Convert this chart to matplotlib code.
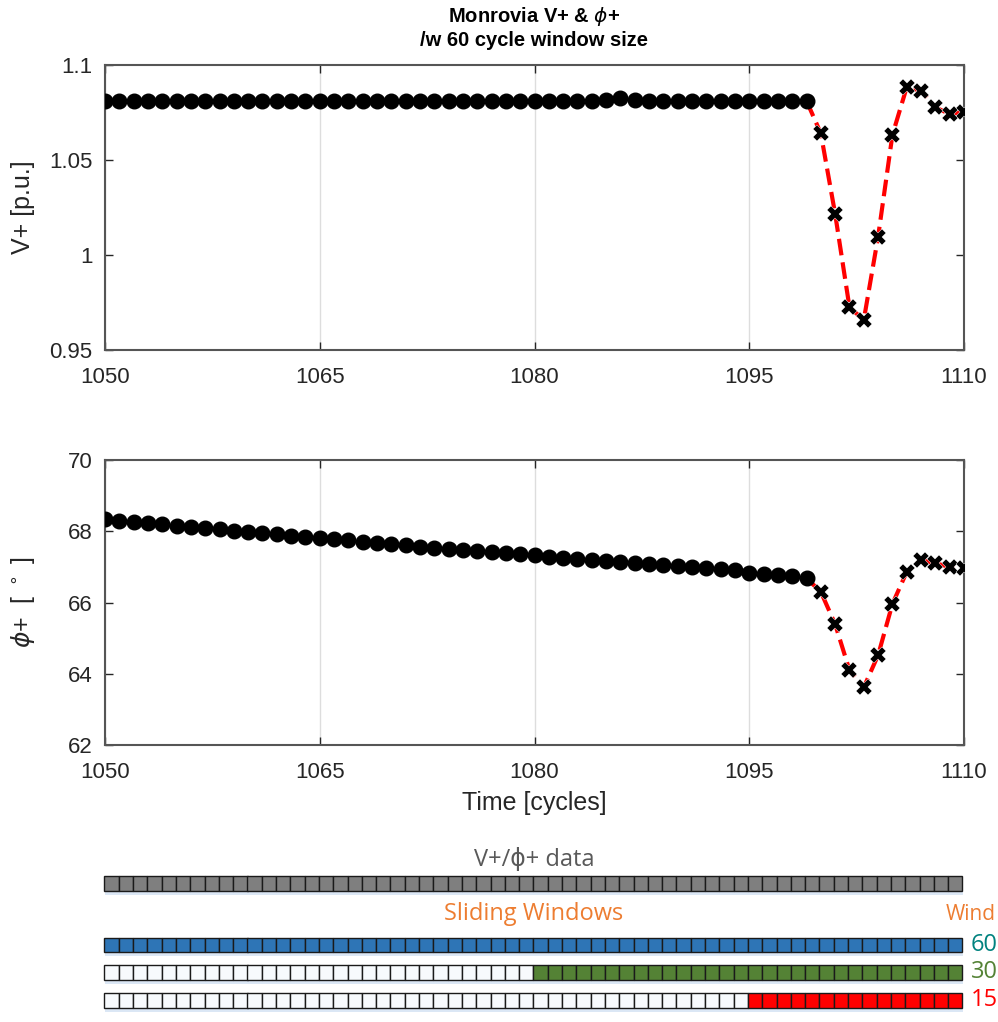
import numpy as np
import matplotlib.pyplot as plt
from matplotlib.patches import Rectangle

plt.rcParams['font.family'] = ['Liberation Sans', 'DejaVu Sans']
plt.rcParams['mathtext.fontset'] = 'dejavusans'

# cycles 1050..1099 (pre-window, circles) and 1099..1110 (window, crosses)
t_pre = list(range(1050, 1100))
v_pre = [1.0811] * 35 + [1.0818, 1.0824, 1.0818] + [1.0811] * 12
phi_pre = [68.33, 68.30, 68.26, 68.23, 68.19, 68.16, 68.12, 68.09, 68.05, 68.02,
           67.98, 67.95, 67.91, 67.88, 67.85, 67.82, 67.78, 67.75, 67.71, 67.68,
           67.64, 67.61, 67.57, 67.54, 67.50, 67.47, 67.44, 67.41, 67.38, 67.35,
           67.32, 67.29, 67.26, 67.23, 67.20, 67.17, 67.14, 67.11, 67.08, 67.05,
           67.02, 66.99, 66.96, 66.93, 66.90, 66.84, 66.80, 66.77, 66.73, 66.68]

t_win = list(range(1099, 1111))
v_win = [1.0811, 1.064, 1.0216, 0.9725, 0.9658, 1.0096, 1.0632, 1.0883, 1.0865,
         1.0777, 1.0742, 1.0754]
phi_win = [66.68, 66.30, 65.39, 64.10, 63.62, 64.52, 65.96, 66.86, 67.19, 67.10,
           67.00, 66.96]

# sliding window diagram
n_cycles = 60
windows = ['60', '30', '15']
window_len = [60, 30, 15]
window_colors = ['#2e75b6', '#548235', '#ff0000']
label_colors = ['#00827f', '#548235', '#ff0000']

fig = plt.figure(figsize=(9.98, 10.22), dpi=100)

W, H = 998, 1022
def axpos(l, t, r, b):
    return [l / W, 1 - b / H, (r - l) / W, (b - t) / H]

ax1 = fig.add_axes(axpos(105, 65, 964, 350))
ax2 = fig.add_axes(axpos(105, 460, 964, 745))

for ax, pre, win in [(ax1, v_pre, v_win), (ax2, phi_pre, phi_win)]:
    ax.plot(t_win, win, '--', color='red', lw=3, dashes=(4, 1.7), zorder=3)
    ax.plot(t_pre, pre, 'o', color='black', ms=10.5, zorder=4)
    ax.plot(t_win[1:], win[1:], 'X', color='black', ms=11, mec='white', mew=0.3, zorder=5)
    ax.set_xlim(1050, 1110)
    ax.set_xticks([1050, 1065, 1080, 1095, 1110])
    ax.grid(axis='x', color='#dddddd', lw=1)
    ax.tick_params(direction='in', top=True, right=True, length=6, width=1,
                   labelsize=16, colors='#262626', labelcolor='#262626')
    ax.tick_params(axis='x', pad=12)
    ax.tick_params(axis='y', pad=9)
    for s in ax.spines.values():
        s.set_color('#555555')
        s.set_linewidth(1.5)
    ax.set_axisbelow(True)

ax1.set_ylim(0.95, 1.1)
ax1.set_yticks([0.95, 1.0, 1.05, 1.1])
ax1.set_yticklabels(['0.95', '1', '1.05', '1.1'])
ax1.set_ylabel('V+ [p.u.]', fontsize=18, color='#262626', va='center')
ax1.yaxis.set_label_coords(-0.096, 0.5)
ax1.set_title('Monrovia V+ & $\\phi$+\n/w 60 cycle window size', fontsize=14.5,
              fontweight='bold', pad=14, linespacing=1.2)

ax2.set_ylim(62, 70)
ax2.set_yticks([62, 64, 66, 68, 70])
ax2.set_ylabel('$\\phi$+  [ $^\\circ$ ]', fontsize=18, color='#262626', va='center')
ax2.yaxis.set_label_coords(-0.096, 0.5)
ax2.set_xlabel('Time [cycles]', fontsize=18, color='#262626', labelpad=6)

# diagram overlay in pixel coordinates
ov = fig.add_axes([0, 0, 1, 1])
ov.set_xlim(0, W)
ov.set_ylim(H, 0)
ov.axis('off')

x0, x1 = 104.5, 962.5
sq = (x1 - x0) / n_cycles

def draw_row(top, bottom, n_filled, fill):
    h = bottom - top
    ov.add_patch(Rectangle((x0 + 1, bottom - 1), x1 - x0, 5, color='#dbe7f5',
                           lw=0, zorder=1))
    for i in range(n_cycles):
        c = fill if i >= n_cycles - n_filled else '#f7fafd'
        ov.add_patch(Rectangle((x0 + i * sq, top), sq, h, facecolor=c,
                               edgecolor='#1a1a1a', lw=1, zorder=2))

draw_row(876, 891, n_cycles, '#7f7f7f')
rows = [(938, 952), (965, 980), (993, 1008)]
for (top, bot), n, col, lab, lc in zip(rows, window_len, window_colors, windows, label_colors):
    draw_row(top, bot, n, col)
    ov.text(971, (top + bot) / 2, lab, color=lc, fontsize=17, va='center', ha='left',
            family=['Open Sans', 'DejaVu Sans'])

ov.text(534, 860, 'V+/\u03d5+ data', color='#595959', fontsize=17, ha='center',
        va='center', family=['Open Sans', 'DejaVu Sans'])
ov.text(534, 914, 'Sliding Windows', color='#ed7d31', fontsize=17, ha='center',
        va='center', family=['Open Sans', 'DejaVu Sans'])
ov.text(946, 914, 'Wind', color='#ed7d31', fontsize=15, ha='left',
        va='center', family=['Open Sans', 'DejaVu Sans'])

fig.savefig('out.png', dpi=100)
